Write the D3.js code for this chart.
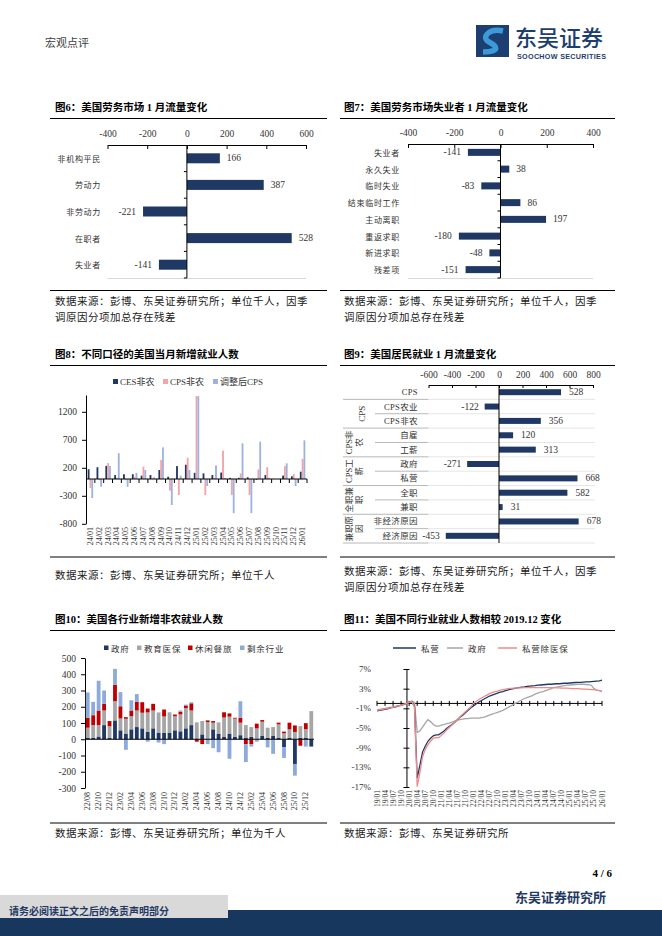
<!DOCTYPE html>
<html><head><meta charset="utf-8">
<script src="https://cdn.jsdelivr.net/npm/d3@7/dist/d3.min.js"></script>
<style>html,body{margin:0;padding:0;background:#fff;}</style>
</head><body>
<script>
// ================= DATA =================
const fig6Cats=["非机构平民","劳动力","非劳动力","在职者","失业者"];
const fig6Vals=[166,387,-221,528,-141];
const fig6Ticks=[-400,-200,0,200,400,600];

const fig7Cats=["失业者","永久失业","临时失业","结束临时工作","主动离职","重返求职","新进求职","残差项"];
const fig7Vals=[-141,38,-83,86,197,-180,-48,-151];
const fig7Ticks=[-400,-200,0,200,400];

const fig8Months=["24/01","24/02","24/03","24/04","24/05","24/06","24/07","24/08","24/09","24/10","24/11","24/12","25/01","25/02","25/03","25/04","25/05","25/06","25/07","25/08","25/09","25/10","25/11","25/12","26/01"];
const fig8CES=[175,210,235,70,85,85,60,70,160,40,230,255,110,100,70,115,20,20,30,-13,70,null,60,48,130];
const fig8CPS=[-160,-20,285,20,-20,40,220,10,340,-210,-286,380,1480,-286,20,505,-285,100,-285,170,210,null,230,90,360];
const fig8Adj=[-340,-137,232,460,-140,110,160,30,565,-464,60,160,1480,-125,244,20,-610,637,-610,666,20,null,280,-125,690];
const fig8Ticks=[1200,700,200,-300,-800];
const fig8Series=["CES非农","CPS非农","调整后CPS"];

const fig9Rows=["CPS","CPS农业","CPS非农","自雇","工薪","政府","私营","全职","兼职","非经济原因","经济原因"];
const fig9Vals=[528,-122,356,120,313,-271,668,582,31,678,-453];
const fig9Ticks=[-600,-400,-200,0,200,400,600,800];
const fig9Groups=[{lines:["CPS"],from:1,to:2},{lines:["CPS非","农"],from:3,to:4},{lines:["CPS工","薪"],from:5,to:6},{lines:["全职兼","职"],from:7,to:8},{lines:["兼职原","因"],from:9,to:10}];

const fig10Months=["22/08","22/09","22/10","22/11","22/12","23/01","23/02","23/03","23/04","23/05","23/06","23/07","23/08","23/09","23/10","23/11","23/12","24/01","24/02","24/03","24/04","24/05","24/06","24/07","24/08","24/09","24/10","24/11","24/12","25/01","25/02","25/03","25/04","25/05","25/06","25/07","25/08","25/09","25/10","25/11","25/12","26/01"];
const fig10Gov =[10,10,17,87,10,116,55,35,61,75,67,47,67,41,41,41,55,49,67,87,0,30,0,61,35,14,35,14,25,10,15,0,20,10,20,10,-48,10,-152,10,10,-45];
const fig10Edu =[61,77,70,90,70,118,73,91,81,102,96,118,110,124,99,125,87,104,125,90,104,82,106,41,69,120,104,113,77,77,60,67,88,61,55,82,37,51,45,71,52,173];
const fig10Leis=[61,61,90,41,32,101,75,10,35,53,65,24,41,0,43,0,10,17,16,44,-15,-30,10,10,0,32,20,5,30,-30,-30,29,10,0,0,10,10,41,40,-40,37,0];
const fig10Rest=[156,82,183,82,0,98,87,-65,63,48,0,-15,0,-20,-30,0,0,7,5,7,0,0,-30,-55,-80,0,-120,0,102,-110,-15,-15,0,-50,-90,0,-67,0,-72,0,-45,0];
const fig10Ticks=[500,400,300,200,100,0,-100,-200,-300];
const fig10Series=["政府","教育医保","休闲餐旅","剩余行业"];

const fig11Quarters=["19/01","19/04","19/07","19/10","20/01","20/04","20/07","20/10","21/01","21/04","21/07","21/10","22/01","22/04","22/07","22/10","23/01","23/04","23/07","23/10","24/01","24/04","24/07","24/10","25/01","25/04","25/07","25/10","26/01"];
const fig11Private=[-1.5,-1.4,-1.3,-1.2,-1.1,-0.9,-0.8,-0.7,-0.5,-0.4,-0.2,0.0,
 0.2,0.4,-0.6,-15.2,-12.6,-9.9,-8.7,-7.7,-7.1,-6.6,-6.4,-6.4,
 -6.0,-5.6,-5.1,-4.7,-4.3,-3.9,-3.3,-2.8,-2.4,-1.9,-1.4,-0.9,
 -0.5,-0.1,0.3,0.6,0.9,1.2,1.5,1.7,1.9,2.1,2.3,2.4,
 2.6,2.75,2.9,3.0,3.1,3.2,3.3,3.35,3.45,3.5,3.55,3.6,
 3.7,3.75,3.8,3.85,3.9,3.9,3.95,4.0,4.0,4.05,4.1,4.1,
 4.15,4.2,4.25,4.3,4.3,4.35,4.4,4.4,4.45,4.5,4.55,4.6,
 4.75];
const fig11Gov=[-1.3,-1.2,-1.1,-1.0,-0.9,-0.8,-0.7,-0.6,-0.5,-0.3,-0.2,0.0,
 0.2,0.5,0.2,-5.9,-5.6,-4.8,-4.0,-3.3,-3.7,-4.3,-4.6,-4.6,
 -4.4,-4.3,-4.1,-4.0,-3.8,-3.6,-3.4,-3.3,-3.2,-3.1,-3.1,-3.0,
 -3.0,-3.0,-3.0,-2.9,-2.8,-2.6,-2.4,-2.2,-2.0,-1.8,-1.6,-1.4,
 -1.1,-0.8,-0.5,-0.2,0.1,0.4,0.7,1.0,1.2,1.4,1.6,1.9,
 2.1,2.3,2.4,2.6,2.8,3.0,3.2,3.3,3.4,3.5,3.6,3.7,
 3.75,3.8,3.85,3.9,3.9,3.9,3.85,3.8,3.7,3.0,2.7,2.6,
 2.4];
const fig11PrivEx=[-1.4,-1.3,-1.2,-1.1,-1.0,-0.9,-0.8,-0.6,-0.5,-0.4,-0.2,0.0,
 0.2,0.4,-0.7,-16.9,-14.1,-10.9,-9.4,-8.4,-7.7,-7.1,-6.9,-7.0,
 -6.5,-6.0,-5.4,-4.9,-4.4,-3.9,-3.3,-2.7,-2.2,-1.7,-1.2,-0.7,
 0.0,0.4,0.8,1.1,1.4,1.7,2.0,2.2,2.4,2.5,2.7,2.8,
 2.9,3.0,3.05,3.1,3.1,3.15,3.15,3.2,3.2,3.2,3.2,3.2,
 3.2,3.2,3.2,3.2,3.2,3.2,3.2,3.15,3.15,3.1,3.1,3.1,
 3.05,3.0,3.0,3.0,2.95,2.9,2.9,2.85,2.8,2.8,2.7,2.6,
 2.5];
const fig11Ticks=[7,3,-1,-5,-9,-13,-17];
const fig11Series=["私营","政府","私营除医保"];

// ================= DRAWING =================
const NAVY="#1f3864";
const SERIF='"Liberation Serif","Times New Roman","Noto Sans CJK SC",serif';
const CJK='"Noto Sans CJK SC","Liberation Serif",sans-serif';
const svg=d3.select("body").append("svg").attr("width",662).attr("height",936).style("display","block");

function T(x,y,s,o={}){
  const t=svg.append("text").attr("x",x).attr("y",y).text(s)
    .attr("font-size",o.size||9).attr("fill",o.fill||"#000")
    .attr("font-family",o.font||SERIF);
  if(o.anchor) t.attr("text-anchor",o.anchor);
  if(o.weight) t.attr("font-weight",o.weight);
  if(o.ls!==undefined) t.attr("letter-spacing",o.ls);
  if(o.base) t.attr("dominant-baseline",o.base);
  if(o.rot!==undefined) t.attr("transform",`rotate(${o.rot},${x},${y})`);
  return t;
}
function L(x1,y1,x2,y2,c,w){
  return svg.append("line").attr("x1",x1).attr("y1",y1).attr("x2",x2).attr("y2",y2)
    .attr("stroke",c||"#000").attr("stroke-width",w||1);
}
function title(x,y,s,x1,x2){ T(x,y,s,{size:10.5,weight:"bold"}); L(x1,118.5+(y-111),x2,118.5+(y-111),"#000",1); }
function source(x,lineY,lines,x1,x2,gap){
  L(x1,lineY,x2,lineY,"#000",1);
  lines.forEach((s,i)=>T(x,lineY+(gap||15)+i*16,s,{size:10.5,font:CJK,ls:0.5,fill:"#222"}));
}

// ---------- header ----------
T(45,47,"宏观点评",{size:11,font:CJK,fill:"#404040"});
svg.append("rect").attr("x",476).attr("y",25).attr("width",33).attr("height",32).attr("fill","#1d3e70");
svg.append("path").attr("d","M503,31 C488,28 481,38 489,42 C497,46 501,52 483,52").attr("fill","none").attr("stroke","#3d9ad8").attr("stroke-width",5.5);
T(515,46,"东吴证券",{size:22,font:CJK,fill:"#1d3e70",weight:500});
T(517,58.5,"SOOCHOW SECURITIES",{size:7.2,font:'"Liberation Sans",sans-serif',weight:"bold",fill:"#1d3e70",ls:0.3});

// ---------- horizontal bar chart helper ----------
function hbar(o){
  const x=d3.scaleLinear().domain(o.domain).range(o.range);
  const y=d3.scaleBand().domain(o.cats).range([o.top,o.bottom]);
  L(o.range[0],o.bottom+0.5,o.range[1],o.bottom+0.5,"#d9d9d9",1);
  const ax=svg.append("g").attr("transform",`translate(0,${o.top})`)
    .call(d3.axisTop(x).tickValues(o.ticks).tickSizeInner(-4).tickSizeOuter(0).tickPadding(8).tickFormat(d=>String(d)));
  ax.select(".domain").attr("stroke","#000");
  ax.selectAll(".tick line").attr("stroke","#000");
  ax.selectAll("text").attr("font-family",SERIF).attr("font-size",9.5).attr("fill","#333");
  svg.append("g").selectAll("rect").data(o.cats).join("rect")
    .attr("x",(d,i)=>x(Math.min(0,o.vals[i])))
    .attr("width",(d,i)=>Math.abs(x(o.vals[i])-x(0)))
    .attr("y",d=>y(d)+y.bandwidth()/2-o.barH/2).attr("height",o.barH).attr("fill",NAVY);
  L(x(0),o.top,x(0),o.bottom,"#000",1);
  o.cats.forEach((c,i)=>{
    L(x(0)-3,y(c)+y.bandwidth(),x(0),y(c)+y.bandwidth(),"#000",1);
    T(o.labelX,y(c)+y.bandwidth()/2,c,{size:8,font:CJK,ls:0.7,anchor:"end",base:"central",fill:"#333"});
    const v=o.vals[i];
    T(v>=0?x(v)+7:x(v)-7,y(c)+y.bandwidth()/2,String(v),{size:9.5,anchor:v>=0?"start":"end",base:"central",fill:"#333"});
  });
}

// ---------- Fig6 ----------
title(55,111,"图6：美国劳务市场 1 月流量变化",50,327);
hbar({cats:fig6Cats,vals:fig6Vals,ticks:fig6Ticks,domain:[-400,600],range:[107.5,306],top:145,bottom:278,labelX:101,barH:10});
source(55,290.5,["数据来源：彭博、东吴证券研究所；单位千人，因季","调原因分项加总存在残差"],50,327,14);

// ---------- Fig7 ----------
title(344,111,"图7：美国劳务市场失业者 1 月流量变化",340,615);
hbar({cats:fig7Cats,vals:fig7Vals,ticks:fig7Ticks,domain:[-400,400],range:[408,593],top:144,bottom:278,labelX:400,barH:7});
source(344,290.5,["数据来源：彭博、东吴证券研究所；单位千人，因季","调原因分项加总存在残差"],340,615,14);

// ---------- Fig8 ----------
title(55,358,"图8：不同口径的美国当月新增就业人数",50,327);
{
  const x=d3.scaleBand().domain(fig8Months).range([86,307]).paddingInner(0.38).paddingOuter(0.19);
  const xi=d3.scaleBand().domain([0,1,2]).range([0,x.bandwidth()]);
  const y=d3.scaleLinear().domain([-800,1500]).range([523.8,395]);
  const cols=[NAVY,"#f4a3a8","#9db3dd"];
  const series=[fig8CES,fig8CPS,fig8Adj];
  const ay=svg.append("g").attr("transform","translate(86,0)")
    .call(d3.axisLeft(y).tickValues(fig8Ticks).tickSizeInner(4).tickSizeOuter(0).tickPadding(5).tickFormat(d=>String(d)));
  ay.select(".domain").attr("stroke","#000");
  ay.selectAll("text").attr("font-family",SERIF).attr("font-size",9.5).attr("fill","#333");
  series.forEach((s,k)=>{
    svg.append("g").selectAll("rect").data(fig8Months.map((m,i)=>({m,v:s[i]})).filter(d=>d.v!==null)).join("rect")
      .attr("x",d=>x(d.m)+xi(k)).attr("width",xi.bandwidth())
      .attr("y",d=>y(Math.max(0,d.v))).attr("height",d=>Math.abs(y(d.v)-y(0)))
      .attr("fill",cols[k]);
  });
  L(86,y(0),307,y(0),"#000",1);
  fig8Months.forEach((m,i)=>{
    const bx=x(m)-x.step()*x.paddingInner()/2;
    L(bx+x.step(),y(0),bx+x.step(),y(0)+4,"#000",1);
    T(x(m)+x.bandwidth()/2,527,m,{size:8,anchor:"end",base:"central",rot:-90,fill:"#333"});
  });
  const lx=[113,163,213];
  fig8Series.forEach((s,k)=>{
    svg.append("rect").attr("x",lx[k]).attr("y",379).attr("width",5).attr("height",5).attr("fill",cols[k]);
    T(lx[k]+7,382,s,{size:9,base:"central",fill:"#333"});
  });
}
source(55,557,["数据来源：彭博、东吴证券研究所；单位千人"],50,327,22);

// ---------- Fig9 ----------
title(344,358,"图9：美国居民就业 1 月流量变化",340,615);
{
  const x=d3.scaleLinear().domain([-600,800]).range([428.5,593]);
  const y=d3.scaleBand().domain(fig9Rows.map((r,i)=>i)).range([385,543]);
  const ax=svg.append("g").attr("transform","translate(0,385)")
    .call(d3.axisTop(x).tickValues(fig9Ticks).tickSizeInner(-3).tickSizeOuter(0).tickPadding(7).tickFormat(d=>String(d)));
  ax.select(".domain").attr("stroke","#000");
  ax.selectAll("text").attr("font-family",SERIF).attr("font-size",9.5).attr("fill","#333");
  const groupStarts=new Set([1,3,5,7,9]);
  for(let r=0;r<fig9Rows.length;r++){
    const yb=y(r)+y.step();
    const gb=(r===fig9Rows.length-1)||groupStarts.has(r+1);
    L(gb?343:375,yb,428.5,yb,"#a6a6a6",0.8);
    L(428.5,yb,595,yb,"#e0e0e0",0.8);
  }
  svg.append("g").selectAll("rect").data(fig9Vals).join("rect")
    .attr("x",d=>x(Math.min(0,d))).attr("width",d=>Math.abs(x(d)-x(0)))
    .attr("y",(d,i)=>y(i)+y.bandwidth()/2-3).attr("height",6).attr("fill",NAVY);
  L(x(0),385,x(0),543,"#000",1);
  fig9Rows.forEach((r,i)=>{
    T(418,y(i)+y.bandwidth()/2,r,{size:8.5,anchor:"end",base:"central",fill:"#333",ls:0.4});
    const v=fig9Vals[i];
    T(v>=0?x(v)+8:x(v)-6,y(i)+y.bandwidth()/2,String(v),{size:9.5,anchor:v>=0?"start":"end",base:"central",fill:"#333"});
  });
  fig9Groups.forEach(g=>{
    const cy=(y(g.from)+y(g.to)+y.step())/2;
    if(g.lines.length===1){
      T(362,cy,g.lines[0],{size:9,anchor:"middle",base:"central",rot:-90,fill:"#333"});
    } else {
      g.lines.forEach((s,j)=>T(349+j*10,cy,s,{size:8.5,anchor:"middle",base:"central",rot:-90,fill:"#333"}));
    }
  });
}
source(344,557,["数据来源：彭博、东吴证券研究所；单位千人，因季","调原因分项加总存在残差"],340,615,18);

// ---------- Fig10 ----------
title(55,623,"图10：美国各行业新增非农就业人数",50,327);
{
  const x=d3.scaleBand().domain(fig10Months).range([85,314]).paddingInner(0.3).paddingOuter(0.15);
  const y=d3.scaleLinear().domain([-300,500]).range([788,658]);
  const keys=["gov","edu","leis","rest"];
  const cols=[NAVY,"#a6a6a6","#c00000","#8eaadb"];
  const rows=fig10Months.map((m,i)=>({m,gov:fig10Gov[i],edu:fig10Edu[i],leis:fig10Leis[i],rest:fig10Rest[i]}));
  const st=d3.stack().keys(keys).offset(d3.stackOffsetDiverging)(rows);
  const ay=svg.append("g").attr("transform","translate(85,0)")
    .call(d3.axisLeft(y).tickValues(fig10Ticks).tickSizeInner(4).tickSizeOuter(0).tickPadding(5).tickFormat(d=>String(d)));
  ay.select(".domain").attr("stroke","#000");
  ay.selectAll("text").attr("font-family",SERIF).attr("font-size",9.5).attr("fill","#333");
  st.forEach((layer,k)=>{
    svg.append("g").selectAll("rect").data(layer).join("rect")
      .attr("x",d=>x(d.data.m)).attr("width",x.bandwidth())
      .attr("y",d=>y(Math.max(d[0],d[1]))).attr("height",d=>Math.abs(y(d[0])-y(d[1])))
      .attr("fill",cols[k]);
  });
  L(85,y(0),314,y(0),"#000",1);
  fig10Months.forEach((m,i)=>{
    if(i%2===0) T(x(m)+x.bandwidth()/2,792,m,{size:8,anchor:"end",base:"central",rot:-90,fill:"#333"});
  });
  const lx=[104,137,188,240];
  fig10Series.forEach((s,k)=>{
    svg.append("rect").attr("x",lx[k]).attr("y",645.5).attr("width",4.5).attr("height",4.5).attr("fill",cols[k]);
    T(lx[k]+7,648,s,{size:8.5,font:CJK,ls:0.8,base:"central",fill:"#333"});
  });
}
source(55,823,["数据来源：彭博、东吴证券研究所；单位为千人"],50,327,14);

// ---------- Fig11 ----------
title(344,623,"图11：美国不同行业就业人数相较 2019.12 变化",340,615);
{
  const x=d3.scaleLinear().domain([0,fig11Private.length-1]).range([377,602]);
  const y=d3.scaleLinear().domain([-17,7]).range([787,669]);
  const ay=svg.append("g").attr("transform",`translate(${x(11)},0)`)
    .call(d3.axisLeft(y).tickValues(fig11Ticks).tickSizeInner(3).tickSizeOuter(0).tickPadding(0).tickFormat(()=>""));
  ay.select(".domain").attr("stroke","#000");
  ay.selectAll(".tick line").attr("x2",3).attr("x1",-3);
  fig11Ticks.forEach(t=>T(371,y(t),t+"%",{size:9,anchor:"end",base:"central",fill:"#333"}));
  L(x(0),y(0),x(84),y(0),"#000",1);
  fig11Quarters.forEach((q,i)=>{
    L(x(i*3),y(0)-2.5,x(i*3),y(0)+2.5,"#000",1);
    T(x(i*3),790,q,{size:7.5,anchor:"end",base:"central",rot:-90,fill:"#333"});
  });
  const line=d3.line().x((d,i)=>x(i)).y(d=>y(d));
  const data=[fig11Gov,fig11Private,fig11PrivEx];
  const cols=["#a6a6a6",NAVY,"#f08a8a"];
  data.forEach((s,k)=>svg.append("path").datum(s).attr("d",line).attr("fill","none").attr("stroke",cols[k]).attr("stroke-width",1.3));
  const leg=[{x1:393,x2:416,c:NAVY,t:fig11Series[0]},{x1:447,x2:463,c:"#a6a6a6",t:fig11Series[1]},{x1:498,x2:517,c:"#f08a8a",t:fig11Series[2]}];
  leg.forEach(l=>{L(l.x1,648,l.x2,648,l.c,1.5); T(l.x2+5,648,l.t,{size:8.5,font:CJK,ls:0.8,base:"central",fill:"#333"});});
}
source(344,823,["数据来源：彭博、东吴证券研究所"],340,615,14);

// ---------- footer ----------
T(612,877,"4 / 6",{size:11,weight:"bold",anchor:"end"});
svg.append("rect").attr("x",0).attr("y",910).attr("width",662).attr("height",26).attr("fill","#17375e");
svg.append("rect").attr("x",0).attr("y",895).attr("width",228).attr("height",23).attr("fill","#d9d9d9");
T(9,910,"请务必阅读正文之后的免责声明部分",{size:10,font:CJK,weight:"bold",fill:"#1f3864",base:"central"});
T(606,902,"东吴证券研究所",{size:13,font:CJK,weight:"bold",anchor:"end",fill:"#1f3864"});
</script>
</body></html>
